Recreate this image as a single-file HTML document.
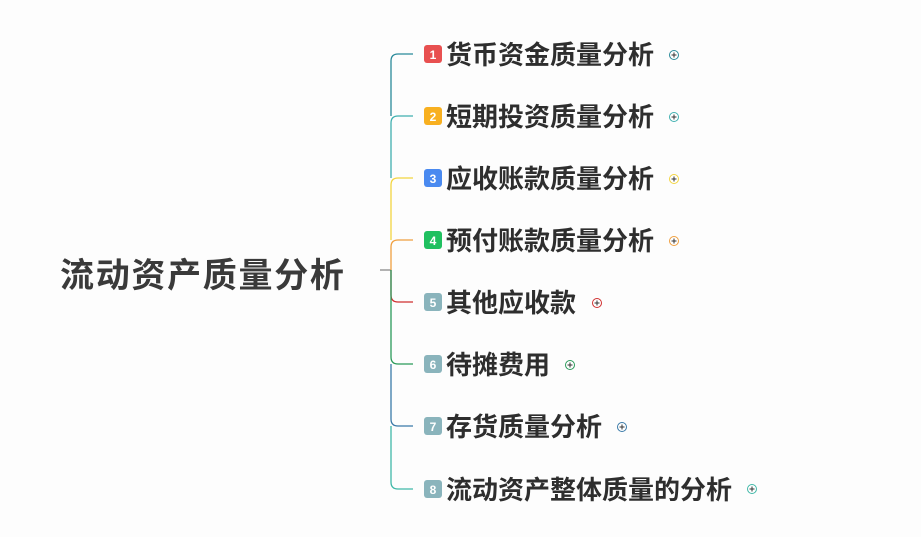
<!DOCTYPE html>
<html><head><meta charset="utf-8"><style>
body{margin:0;background:#fff;width:921px;height:537px;overflow:hidden}
svg text{font-family:"Liberation Sans","Noto Sans CJK SC",sans-serif;font-weight:bold}
</style></head><body>
<svg width="921" height="537" xmlns="http://www.w3.org/2000/svg">
<rect width="921" height="537" fill="#fdfdfd"/>
<text x="60" y="287" font-size="34" fill="#3a3a3a" letter-spacing="1.7">流动资产质量分析</text>
<line x1="380" y1="270" x2="391" y2="270" stroke="#666" stroke-width="1"/>
<g fill="none" stroke-width="1.3">
<path d="M413 54 H398 Q391 54 391 61 V116" stroke="#2a8a9a"/>
<path d="M413 116 H398 Q391 116 391 123 V178" stroke="#40b0b0"/>
<path d="M413 178 H398 Q391 178 391 185 V240" stroke="#f3d540"/>
<path d="M413 240 H398 Q391 240 391 247 V270" stroke="#f0a040"/>
<path d="M391 270 V295 Q391 302 398 302 H413" stroke="#d03030"/>
<path d="M391 270 V357 Q391 364 398 364 H413" stroke="#2a9a5a"/>
<path d="M391 364 V419 Q391 426 398 426 H413" stroke="#3a7aa8"/>
<path d="M391 426 V482 Q391 489 398 489 H413" stroke="#40b8a8"/>
</g>
<g font-size="26" fill="#2e2e2e">
<text x="446" y="64">货币资金质量分析</text>
<text x="446" y="126">短期投资质量分析</text>
<text x="446" y="188">应收账款质量分析</text>
<text x="446" y="250">预付账款质量分析</text>
<text x="446" y="312">其他应收款</text>
<text x="446" y="374">待摊费用</text>
<text x="446" y="436">存货质量分析</text>
<text x="446" y="499">流动资产整体质量的分析</text>
</g>
<g>
<rect x="424" y="45" width="18" height="18" rx="3" fill="#e85050"/>
<rect x="424" y="107" width="18" height="18" rx="3" fill="#f8b020"/>
<rect x="424" y="169" width="18" height="18" rx="3" fill="#4a8af0"/>
<rect x="424" y="231" width="18" height="18" rx="3" fill="#20c060"/>
<rect x="424" y="293" width="18" height="18" rx="3" fill="#8ab4bc"/>
<rect x="424" y="355" width="18" height="18" rx="3" fill="#8ab4bc"/>
<rect x="424" y="417" width="18" height="18" rx="3" fill="#8ab4bc"/>
<rect x="424" y="480" width="18" height="18" rx="3" fill="#8ab4bc"/>
</g>
<g font-size="12" fill="#fff" text-anchor="middle">
<text x="433" y="59">1</text><text x="433" y="121">2</text><text x="433" y="183">3</text><text x="433" y="245">4</text>
<text x="433" y="307">5</text><text x="433" y="369">6</text><text x="433" y="431">7</text><text x="433" y="494">8</text>
</g>
<g fill="#fff" stroke-width="1">
<circle cx="674" cy="55" r="4.5" stroke="#2a8a9a"/>
<circle cx="674" cy="117" r="4.5" stroke="#40b0b0"/>
<circle cx="674" cy="179" r="4.5" stroke="#f3d540"/>
<circle cx="674" cy="241" r="4.5" stroke="#f0a040"/>
<circle cx="597" cy="303" r="4.5" stroke="#d03030"/>
<circle cx="570" cy="365" r="4.5" stroke="#2a9a5a"/>
<circle cx="622" cy="427" r="4.5" stroke="#3a7aa8"/>
<circle cx="752" cy="489" r="4.5" stroke="#40b8a8"/>
</g>
<g stroke="#333" stroke-width="1">
<path d="M671.5 55h5M674 52.5v5"/><path d="M671.5 117h5M674 114.5v5"/>
<path d="M671.5 179h5M674 176.5v5"/><path d="M671.5 241h5M674 238.5v5"/>
<path d="M594.5 303h5M597 300.5v5"/><path d="M567.5 365h5M570 362.5v5"/>
<path d="M619.5 427h5M622 424.5v5"/><path d="M749.5 489h5M752 486.5v5"/>
</g>
</svg>
</body></html>
